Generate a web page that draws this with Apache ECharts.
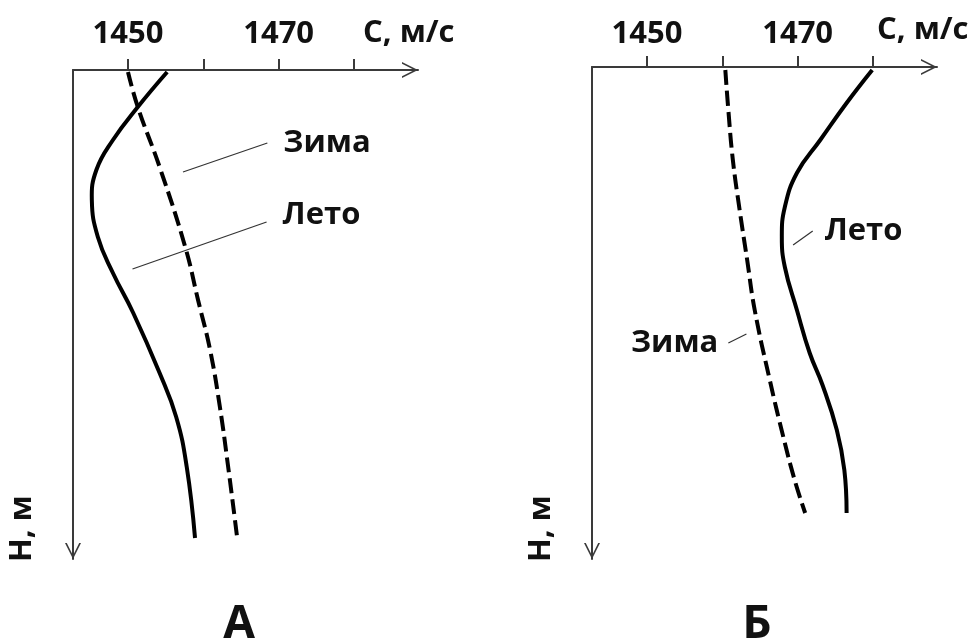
<!DOCTYPE html>
<html>
<head>
<meta charset="utf-8">
<script src="https://cdn.jsdelivr.net/npm/echarts@6/dist/echarts.min.js"></script>
<style>
  html, body { margin: 0; padding: 0; background: #fff; }
  #chart { width: 979px; height: 638px; }
</style>
</head>
<body>
<div id="chart"></div>
<script>
// Sound speed C (m/s) vs depth H, two schematic profiles (А and Б).
// Depth is in relative units (0 at the surface), points are [C, H].
const speedTicks = [1450, 1460, 1470, 1480];
const speedLabels = [1450, 1470];

const summerA = [[1455.2, 2], [1451.3, 37], [1448.0, 70], [1445.8, 100], [1445.2, 130], [1446.0, 167],
  [1448.0, 203], [1450.7, 243], [1454.2, 303], [1456.4, 347], [1457.8, 397], [1458.9, 468]];
const winterA = [[1450.0, 2], [1451.3, 37], [1454.2, 97], [1457.6, 177], [1459.3, 230], [1460.9, 280],
  [1462.2, 337], [1463.3, 397], [1464.5, 468]];

const summerB = [[1479.9, 3], [1476.5, 36], [1473.0, 73], [1469.9, 106], [1468.3, 140], [1467.9, 170],
  [1468.3, 200], [1469.9, 243], [1471.6, 286], [1473.3, 318], [1475.2, 363], [1476.2, 403], [1476.5, 446]];
const winterB = [[1460.4, 3], [1460.8, 43], [1461.4, 93], [1462.3, 143], [1463.3, 193], [1464.3, 243],
  [1466.3, 313], [1468.1, 370], [1469.6, 413], [1471.0, 446]];

// callout lines: [from, to]
const calloutWinterA = [[1457.3, 102], [1468.5, 73]];
const calloutSummerA = [[1450.6, 199], [1468.4, 152]];
const calloutSummerB = [[1469.4, 178], [1472.0, 164]];
const calloutWinterB = [[1463.2, 267], [1460.8, 276]];

const FONT = 'Open Sans';
const FS = 31;
const INK = '#111';
const AXIS = '#3a3a3a';
const arrowPath = 'path://M0,16 L8,0 L16,16 L14.2,16 L8,3.6 L1.8,16 Z';

function speedAxis(gridIndex, max, nameGap, labelMargin) {
  return {
    type: 'value', gridIndex, position: 'top', min: 1442.7, max,
    name: 'С, м/с', nameLocation: 'end', nameGap,
    nameTextStyle: { fontFamily: FONT, fontWeight: 'bold', fontSize: FS, color: INK,
      align: 'left', verticalAlign: 'bottom', padding: [0, 0, 21, 0] },
    splitLine: { show: false },
    axisLine: { show: true, lineStyle: { color: AXIS, width: 2 },
      symbol: ['none', arrowPath], symbolSize: [16, 16], symbolOffset: [0, -8] },
    axisTick: { show: true, length: 11, lineStyle: { color: AXIS, width: 2 }, customValues: speedTicks },
    axisLabel: { show: true, margin: labelMargin, customValues: speedLabels, formatter: v => String(v),
      fontFamily: FONT, fontWeight: 'bold', fontSize: FS, color: INK }
  };
}

function depthAxis(gridIndex, max) {
  return {
    type: 'value', gridIndex, inverse: true, min: 0, max,
    name: 'Н, м', nameLocation: 'end', nameGap: 3, nameRotate: 90,
    nameTextStyle: { fontFamily: FONT, fontWeight: 'bold', fontSize: FS, color: INK,
      align: 'left', verticalAlign: 'bottom', padding: [0, 0, 35, 0] },
    splitLine: { show: false },
    axisLine: { show: true, lineStyle: { color: AXIS, width: 2 },
      symbol: [arrowPath, 'none'], symbolSize: [16, 16], symbolOffset: [8, 0] },
    axisTick: { show: false },
    axisLabel: { show: false }
  };
}

// One smooth curve through all points of a profile, placed with the axis scales.
function profile(points, idx, dashed) {
  return {
    type: 'custom', xAxisIndex: idx, yAxisIndex: idx, data: points, silent: true,
    renderItem(params, api) {
      if (params.dataIndex !== 0) return null;
      return {
        type: 'polyline',
        shape: { points: points.map(p => api.coord(p)), smooth: 0.45 },
        style: { stroke: '#000', lineWidth: 4, fill: null,
          lineDash: dashed ? [15, 6] : null, lineCap: 'butt', lineJoin: 'round' }
      };
    }
  };
}

function callout(pts, idx, text, labelAt, position, distance, offset) {
  const data = pts.map((p, i) => {
    const item = { value: p };
    if (i === labelAt) {
      item.label = { show: true, position, distance, offset: offset || [0, 0], formatter: text,
        fontFamily: FONT, fontWeight: 'bold', fontSize: FS, color: INK };
    }
    return item;
  });
  return {
    type: 'line', xAxisIndex: idx, yAxisIndex: idx, data,
    symbol: 'circle', symbolSize: 0, showSymbol: true, silent: true,
    lineStyle: { color: '#333', width: 1.2 }, label: { show: false }
  };
}

const chart = echarts.init(document.getElementById('chart'));
chart.setOption({
  animation: false,
  backgroundColor: '#fff',
  title: [
    { text: 'А', left: 234, top: 597, textAlign: 'center',
      textStyle: { fontFamily: FONT, fontWeight: 'bold', fontSize: 46, color: INK } },
    { text: 'Б', left: 752, top: 597, textAlign: 'center',
      textStyle: { fontFamily: FONT, fontWeight: 'bold', fontSize: 46, color: INK } }
  ],
  grid: [
    { left: 73, top: 70, width: 345, height: 489 },
    { left: 592, top: 67, width: 345, height: 492 }
  ],
  xAxis: [speedAxis(0, 1488.5, -55, 20), speedAxis(1, 1488.5, -60, 17)],
  yAxis: [depthAxis(0, 489), depthAxis(1, 492)],
  series: [
    profile(summerA, 0, false),
    profile(winterA, 0, true),
    callout(calloutWinterA, 0, 'Зима', 1, 'right', 16),
    callout(calloutSummerA, 0, 'Лето', 1, 'right', 16, [0, -7]),
    profile(summerB, 1, false),
    profile(winterB, 1, true),
    callout(calloutSummerB, 1, 'Лето', 1, 'right', 12),
    callout(calloutWinterB, 1, 'Зима', 1, 'left', 10)
  ]
});
</script>
</body>
</html>
